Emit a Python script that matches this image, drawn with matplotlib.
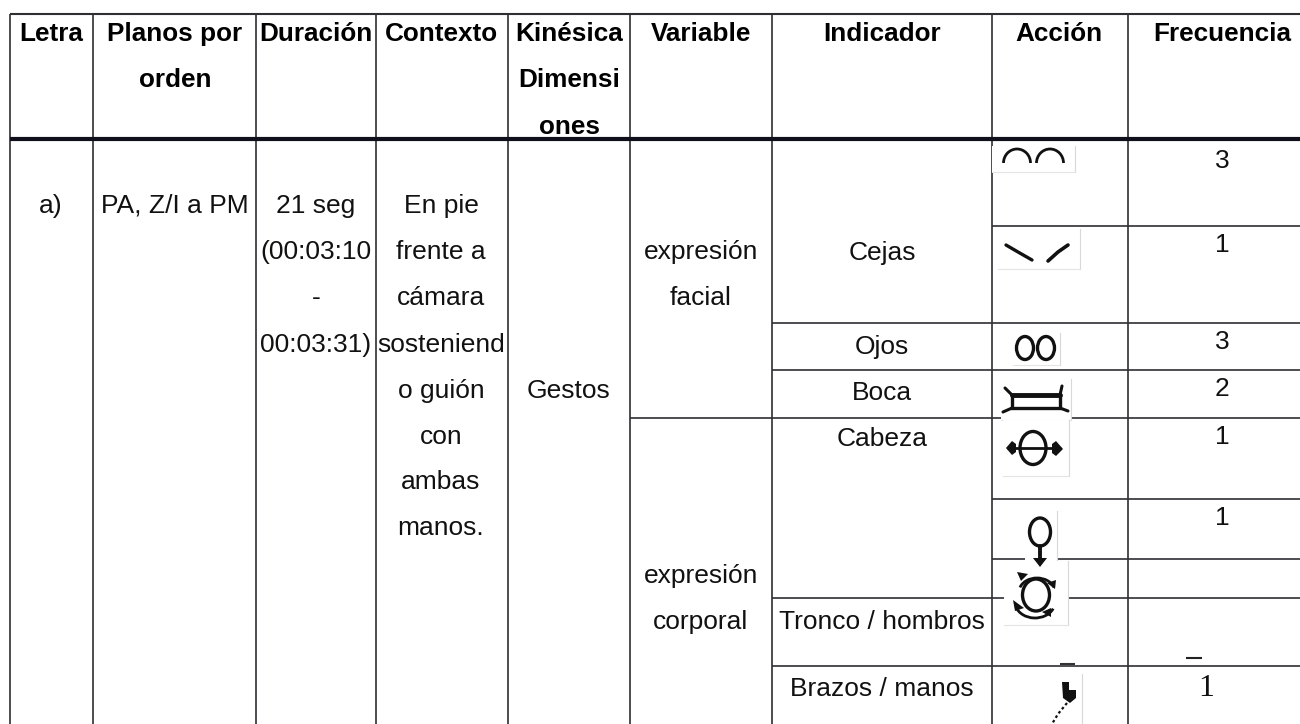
"""Tabla de kinésica: gestos por plano, redrawn on a pixel-sized axes."""
import matplotlib
matplotlib.use("Agg")
import matplotlib.pyplot as plt
from matplotlib.patches import Arc, Ellipse, Polygon, Rectangle

plt.rcParams["font.family"] = ["Liberation Sans", "DejaVu Sans"]

W, H = 1300, 724
LINE = "#2e2e33"

# table text
headers = ["Letra", "Planos por\norden", "Duración", "Contexto", "Kinésica\nDimensi\nones",
           "Variable", "Indicador", "Acción", "Frecuencia"]
letra = "a)"
planos = "PA, Z/I a PM"
duracion = ["21 seg", "(00:03:10", "-", "00:03:31)"]
contexto = ["En pie", "frente a", "cámara", "sosteniend", "o guión", "con", "ambas", "manos."]
dimension = "Gestos"
variables = [["expresión", "facial"], ["expresión", "corporal"]]
indicadores = ["Cejas", "Ojos", "Boca", "Cabeza", "Tronco / hombros", "Brazos / manos"]
frecuencias = ["3", "1", "3", "2", "1", "1"]

# layout, in pixels
col_edges = [10, 93, 256, 376, 508, 630, 772, 992, 1128]
col_centers = [51, 175, 316, 441, 569, 701, 882, 1059, 1222]
header_y = [34, 80, 127]
body_y = [206, 252, 298, 345, 391, 437, 482, 528]
variable_y = [576, 622]
indicador_y = [253, 347, 393, 439, 622, 689]
frecuencia_y = [160.5, 245, 342, 389, 437, 518]
rules = [(226, 992), (323, 772), (370, 772), (418, 630), (499, 992),
         (559, 992), (598, 772), (666, 772)]

fig = plt.figure(figsize=(W / 100, H / 100), dpi=100, facecolor="white")
ax = fig.add_axes([0, 0, 1, 1])
ax.set_xlim(0, W)
ax.set_ylim(H, 0)
ax.axis("off")


def put(x, y, s, **kw):
    kw.setdefault("fontsize", 19)
    kw.setdefault("color", "#111111")
    ax.text(x, y, s, ha="center", va="center", **kw)


def rule(xs, ys, color=LINE, lw=1.2, z=2):
    ax.plot(xs, ys, color=color, lw=lw, solid_capstyle="butt", zorder=z)


def stroke(xs, ys, lw=2.2, z=6):
    ax.plot(xs, ys, color="#111111", lw=lw, solid_capstyle="round", zorder=z)


def ring(x, y, w, h, z=6):
    ax.add_patch(Ellipse((x, y), w, h, fill=False, ec="#111111", lw=2.4, zorder=z))


def paper(x0, y0, x1, y1, z=4):
    # pasted glyph images: white with a faint right/bottom edge
    ax.add_patch(Rectangle((x0, y0), x1 - x0, y1 - y0, fc="white", ec="none", zorder=z))
    ax.plot([x1, x1], [y0, y1], color="#d8d8d8", lw=0.8, zorder=z)
    ax.plot([x0, x1], [y1, y1], color="#e4e4e4", lw=0.8, zorder=z)


def head(pts, z=6):
    ax.add_patch(Polygon(pts, closed=True, fc="#111111", ec="none", zorder=z))


# grid
rule([10, W], [14, 14], lw=1.5)
rule([10, W], [139, 139], color="#10101c", lw=3, z=3)
for x in col_edges:
    rule([x, x], [14, H])
for y, x0 in rules:
    rule([x0, W], [y, y])

# header
for cx, label in zip(col_centers, headers):
    for y, part in zip(header_y, label.split("\n")):
        put(cx, y, part, fontweight="bold", fontsize=18.8, color="black")

# body text
put(col_centers[0], body_y[0], letra)
put(col_centers[1], body_y[0], planos)
for y, s in zip(body_y, duracion):
    put(col_centers[2], y, s)
for y, s in zip(body_y, contexto):
    put(col_centers[3], y, s)
put(col_centers[4], body_y[4], dimension)
for y, s in zip(body_y[1:3], variables[0]):
    put(col_centers[5], y, s)
for y, s in zip(variable_y, variables[1]):
    put(col_centers[5], y, s)
for y, s in zip(indicador_y, indicadores):
    put(col_centers[6], y, s)
for y, s in zip(frecuencia_y, frecuencias):
    put(col_centers[8], y, s)
put(1206, 688, "1", family="Liberation Serif", fontsize=23)

# cejas arriba
paper(992, 146, 1075, 172)
for cx in (1017, 1050):
    ax.add_patch(Arc((cx, 163), 27, 28, theta1=180, theta2=360, ec="#111111", lw=2, zorder=6))

# cejas fruncidas
paper(998, 229, 1080, 269)
stroke([1006, 1018, 1032], [245, 252, 260], lw=2.4)
stroke([1048, 1058, 1068], [261, 252, 245], lw=2.6)

# ojos
paper(1013, 333, 1060, 365)
ring(1025, 348, 17, 23)
ring(1046, 348, 17, 23)

# boca
paper(1001, 379, 1071, 420)
ax.add_patch(Rectangle((1012, 395), 48, 13, fill=False, ec="#111111", lw=2.4, zorder=6))
stroke([1012, 1060], [395, 395], lw=3.5)
stroke([1005, 1012], [388, 395])
stroke([1062, 1060], [386, 395])
stroke([1003, 1012], [412, 408])
stroke([1060, 1068], [408, 411])

# cabeza, lado a lado
paper(1003, 420, 1069, 476)
ring(1033, 448, 26, 33)
stroke([1008, 1060], [448, 448], lw=2)
head([(1006, 448), (1012, 441), (1016, 444), (1016, 452), (1012, 455)])
head([(1063, 449), (1056, 441), (1052, 444), (1052, 453), (1056, 456)])

# cabeza abajo
paper(1025, 511, 1057, 572)
ring(1040, 532, 21, 28)
stroke([1040, 1040], [546, 560], lw=2.8)
head([(1040, 567), (1033, 558), (1047, 558)])

# cabeza, giro
paper(1004, 561, 1068, 625)
ring(1036, 595, 27, 32)
ax.add_patch(Arc((1037, 592), 36, 28, theta1=195, theta2=345, ec="#111111", lw=2, zorder=6))
ax.add_patch(Arc((1035, 602), 40, 32, theta1=20, theta2=165, ec="#111111", lw=2, zorder=6))
head([(1017, 572), (1028, 574), (1021, 581)])
head([(1056, 580), (1055, 589), (1047, 583)])
head([(1013, 600), (1024, 608), (1015, 611)])
head([(1051, 608), (1051, 617), (1042, 612)])

# brazos
paper(1040, 674, 1082, H + 2)
head([(1062, 682), (1069, 682), (1069, 690), (1076, 690), (1076, 698), (1070, 703), (1063, 698)])
ax.plot([1067, 1058, 1052], [703, 714, 724], color="#111111", lw=1.6, ls=(0, (1.2, 1.2)), zorder=6)

# trazos sueltos bajo Acción y Frecuencia
rule([1060, 1075], [664, 664], color="#333333", lw=1.5, z=6)
rule([1186, 1202], [658, 658], color="#222222", lw=1.5, z=6)

fig.savefig("out.png", dpi=100, facecolor="white")
plt.close(fig)
